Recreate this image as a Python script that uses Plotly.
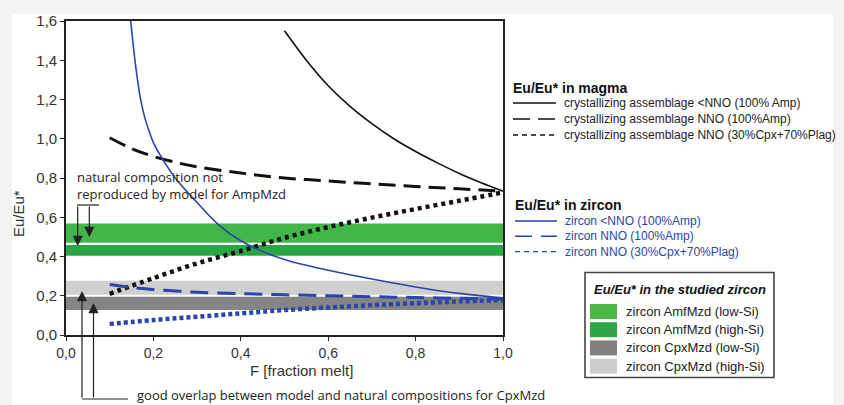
import plotly.graph_objects as go

# ---------------- data ----------------
F_mag_amp_low = [0.50, 0.55, 0.60, 0.65, 0.70, 0.75, 0.80, 0.85, 0.90, 0.95, 1.00]
Y_mag_amp_low = [1.55, 1.40, 1.27, 1.165, 1.077, 1.00, 0.935, 0.877, 0.823, 0.776, 0.733]

F_mag_amp_nno = [0.10, 0.15, 0.20, 0.26, 0.30, 0.40, 0.50, 0.60, 0.70, 0.80, 0.90, 1.00]
Y_mag_amp_nno = [1.005, 0.95, 0.91, 0.875, 0.857, 0.825, 0.80, 0.785, 0.77, 0.757, 0.745, 0.733]

F_mag_cpx = [0.10, 0.20, 0.30, 0.40, 0.50, 0.60, 0.70, 0.80, 0.90, 1.00]
Y_mag_cpx = [0.21, 0.29, 0.365, 0.428, 0.495, 0.55, 0.598, 0.642, 0.684, 0.727]

F_zr_amp_low = [0.148, 0.16, 0.17, 0.18, 0.19, 0.20, 0.22, 0.25, 0.30, 0.35, 0.40, 0.45, 0.50, 0.55, 0.60, 0.70, 0.80, 0.90, 1.00]
Y_zr_amp_low = [1.60, 1.36, 1.21, 1.11, 1.04, 0.98, 0.90, 0.80, 0.675, 0.56, 0.48, 0.425, 0.385, 0.355, 0.33, 0.285, 0.245, 0.212, 0.188]

F_zr_amp_nno = [0.10, 0.15, 0.20, 0.26, 0.30, 0.40, 0.50, 0.60, 0.70, 0.80, 0.90, 1.00]
Y_zr_amp_nno = [0.257, 0.242, 0.232, 0.223, 0.218, 0.211, 0.205, 0.200, 0.195, 0.191, 0.187, 0.183]

F_zr_cpx = [0.10, 0.20, 0.30, 0.40, 0.50, 0.60, 0.70, 0.80, 0.90, 1.00]
Y_zr_cpx = [0.056, 0.076, 0.093, 0.110, 0.127, 0.140, 0.152, 0.162, 0.171, 0.178]

band_names = ["zircon AmfMzd (low-Si)", "zircon AmfMzd (high-Si)", "zircon CpxMzd (low-Si)", "zircon CpxMzd (high-Si)"]
band_lo = [0.470, 0.404, 0.127, 0.205]
band_hi = [0.568, 0.458, 0.195, 0.277]
band_colors = ["#42b649", "#2aa645", "#858585", "#cfcfcf"]
legend_swatch_colors = ["#4cb848", "#2ca646", "#808080", "#cccccc"]

x_ticks = [0.0, 0.2, 0.4, 0.6, 0.8, 1.0]
x_ticktext = ["0,0", "0,2", "0,4", "0,6", "0,8", "1,0"]
y_ticks = [0.0, 0.2, 0.4, 0.6, 0.8, 1.0, 1.2, 1.4, 1.6]
y_ticktext = ["0,0", "0,2", "0,4", "0,6", "0,8", "1,0", "1,2", "1,4", "1,6"]

magma_labels = ["crystallizing assemblage <NNO (100% Amp)",
                "crystallizing assemblage NNO (100%Amp)",
                "crystallizing assemblage NNO (30%Cpx+70%Plag)"]
zircon_labels = ["zircon <NNO (100%Amp)",
                 "zircon NNO (100%Amp)",
                 "zircon NNO (30%Cpx+70%Plag)"]

BLUE = "#2b45a8"
BLACK = "#111111"
ANNOT_FONT = "Open Sans"
LEG_FONT = "Liberation Sans, Arial"

# ---------------- layout geometry (pixels) ----------------
W, H = 844, 405
L, R, T, B = 66, 341, 21, 70
PW, PH = W - L - R, H - T - B


def px_x(px):
    return (px - L) / PW


def px_y(py):
    return (H - B - py) / PH


fig = go.Figure()

# bands
for name, lo, hi, col in zip(band_names, band_lo, band_hi, band_colors):
    fig.add_trace(go.Scatter(x=[0, 1, 1, 0, 0], y=[lo, lo, hi, hi, lo], fill="toself",
                             fillcolor=col, line=dict(width=0), mode="lines",
                             hoverinfo="skip", showlegend=False, name=name))

# curves
fig.add_trace(go.Scatter(x=F_mag_amp_low, y=Y_mag_amp_low, mode="lines", line_shape="spline",
                         line=dict(color=BLACK, width=1.6), showlegend=False))
fig.add_trace(go.Scatter(x=F_mag_amp_nno, y=Y_mag_amp_nno, mode="lines", line_shape="spline",
                         line=dict(color=BLACK, width=3, dash="17px,8px"), showlegend=False))
fig.add_trace(go.Scatter(x=F_mag_cpx, y=Y_mag_cpx, mode="lines", line_shape="spline",
                         line=dict(color=BLACK, width=4.5, dash="4px,4px"), showlegend=False))
fig.add_trace(go.Scatter(x=F_zr_amp_low, y=Y_zr_amp_low, mode="lines", line_shape="spline",
                         line=dict(color=BLUE, width=1.6), showlegend=False))
fig.add_trace(go.Scatter(x=F_zr_amp_nno, y=Y_zr_amp_nno, mode="lines", line_shape="spline",
                         line=dict(color=BLUE, width=3, dash="18px,9px"), showlegend=False))
fig.add_trace(go.Scatter(x=F_zr_cpx, y=Y_zr_cpx, mode="lines", line_shape="spline",
                         line=dict(color=BLUE, width=4.5, dash="4px,3px"), showlegend=False))

shapes = []
annots = []


def text(px, py, s, size, color="#222", family=LEG_FONT, xanchor="left", angle=0, align="left"):
    annots.append(dict(xref="paper", yref="paper", x=px_x(px), y=px_y(py), xanchor=xanchor,
                       yanchor="middle", text=s, showarrow=False, textangle=angle, align=align,
                       font=dict(family=family, size=size, color=color)))


def arrow(px, tip_py, tail_py):
    annots.append(dict(xref="paper", yref="paper", x=px_x(px), y=px_y(tip_py), ax=0, ay=tail_py - tip_py,
                       axref="pixel", ayref="pixel", text="", showarrow=True, arrowhead=2,
                       arrowsize=1.7, arrowwidth=1.2, arrowcolor="#222"))


# white panel over grey page
shapes.append(dict(type="rect", xref="paper", yref="paper", x0=px_x(12), x1=px_x(833),
                   y0=px_y(406), y1=px_y(14), fillcolor="white", line=dict(width=0), layer="below"))

# top bracket + arrows (AmpMzd)
shapes.append(dict(type="line", xref="paper", yref="paper", x0=px_x(77), x1=px_x(99),
                   y0=px_y(205), y1=px_y(205), line=dict(color="#222", width=1.2)))
arrow(77.7, 246, 205)
arrow(89.3, 237, 205)
text(75, 185, "natural composition not<br>reproduced by model for AmpMzd", 13, family=ANNOT_FONT)

# bottom bracket + arrows (CpxMzd)
shapes.append(dict(type="line", xref="paper", yref="paper", x0=px_x(82), x1=px_x(128),
                   y0=px_y(399), y1=px_y(399), line=dict(color="#222", width=1.2)))
arrow(82, 291, 399)
arrow(93.5, 303, 399)
text(135, 395, "good overlap between model and natural compositions for CpxMzd", 13, family=ANNOT_FONT)

# axis titles
text(301, 370, "F [fraction melt]", 15, color="#333", xanchor="center")
text(18, 214, "Eu/Eu*", 15, color="#333", xanchor="center", angle=-90)

# legend: magma
text(511, 88, "<b>Eu/Eu* in magma</b>", 14, color="#111")
mag_styles = [("solid", 1.4), ("17px,8px", 1.6), ("5px,4px", 1.4)]
for i, (lab, (dsh, lw)) in enumerate(zip(magma_labels, mag_styles)):
    yy = 103 + i * 16
    shapes.append(dict(type="line", xref="paper", yref="paper", x0=px_x(513), x1=px_x(556),
                       y0=px_y(yy), y1=px_y(yy), line=dict(color="#111", width=lw, dash=dsh)))
    text(562, yy, lab, 12)

# legend: zircon
text(513, 205, "<b>Eu/Eu* in zircon</b>", 14, color="#111")
zr_styles = [("solid", 1.4), ("17px,9px", 1.6), ("5px,4px", 1.4)]
for i, (lab, (dsh, lw)) in enumerate(zip(zircon_labels, zr_styles)):
    yy = 221 + i * 15.3
    shapes.append(dict(type="line", xref="paper", yref="paper", x0=px_x(515), x1=px_x(557),
                       y0=px_y(yy), y1=px_y(yy), line=dict(color=BLUE, width=lw, dash=dsh)))
    text(563, yy, lab, 12, color=BLUE)

# legend: studied zircon (boxed)
shapes.append(dict(type="rect", xref="paper", yref="paper", x0=px_x(585), x1=px_x(774),
                   y0=px_y(377.5), y1=px_y(272.5), fillcolor="white", line=dict(color="#444", width=1.6)))
text(679.5, 289, "<b><i>Eu/Eu* in the studied zircon</i></b>", 13, color="#111", xanchor="center")
for i, (lab, col) in enumerate(zip(band_names, legend_swatch_colors)):
    yy = 311.5 + i * 18.2
    shapes.append(dict(type="rect", xref="paper", yref="paper", x0=px_x(590), x1=px_x(617),
                       y0=px_y(yy + 7.5), y1=px_y(yy - 7.5), fillcolor=col, line=dict(width=0)))
    text(624, yy, lab, 13)

fig.update_layout(
    width=W, height=H,
    margin=dict(l=L, r=R, t=T, b=B),
    paper_bgcolor="#f3f3f3", plot_bgcolor="white",
    shapes=shapes, annotations=annots,
    showlegend=False,
    xaxis=dict(range=[0, 1], tickvals=x_ticks, ticktext=x_ticktext, ticks="outside", ticklen=4,
               tickcolor="#222", showgrid=False, zeroline=False, showline=True, linecolor="#222",
               linewidth=1.6, mirror=True, tickfont=dict(family=LEG_FONT, size=14, color="#333")),
    yaxis=dict(range=[0, 1.6], tickvals=y_ticks, ticktext=y_ticktext, ticks="outside", ticklen=4,
               tickcolor="#222", showgrid=False, zeroline=False, showline=True, linecolor="#222",
               linewidth=1.6, mirror=True, tickfont=dict(family=LEG_FONT, size=15, color="#333")),
)

fig.write_html("out.html")
